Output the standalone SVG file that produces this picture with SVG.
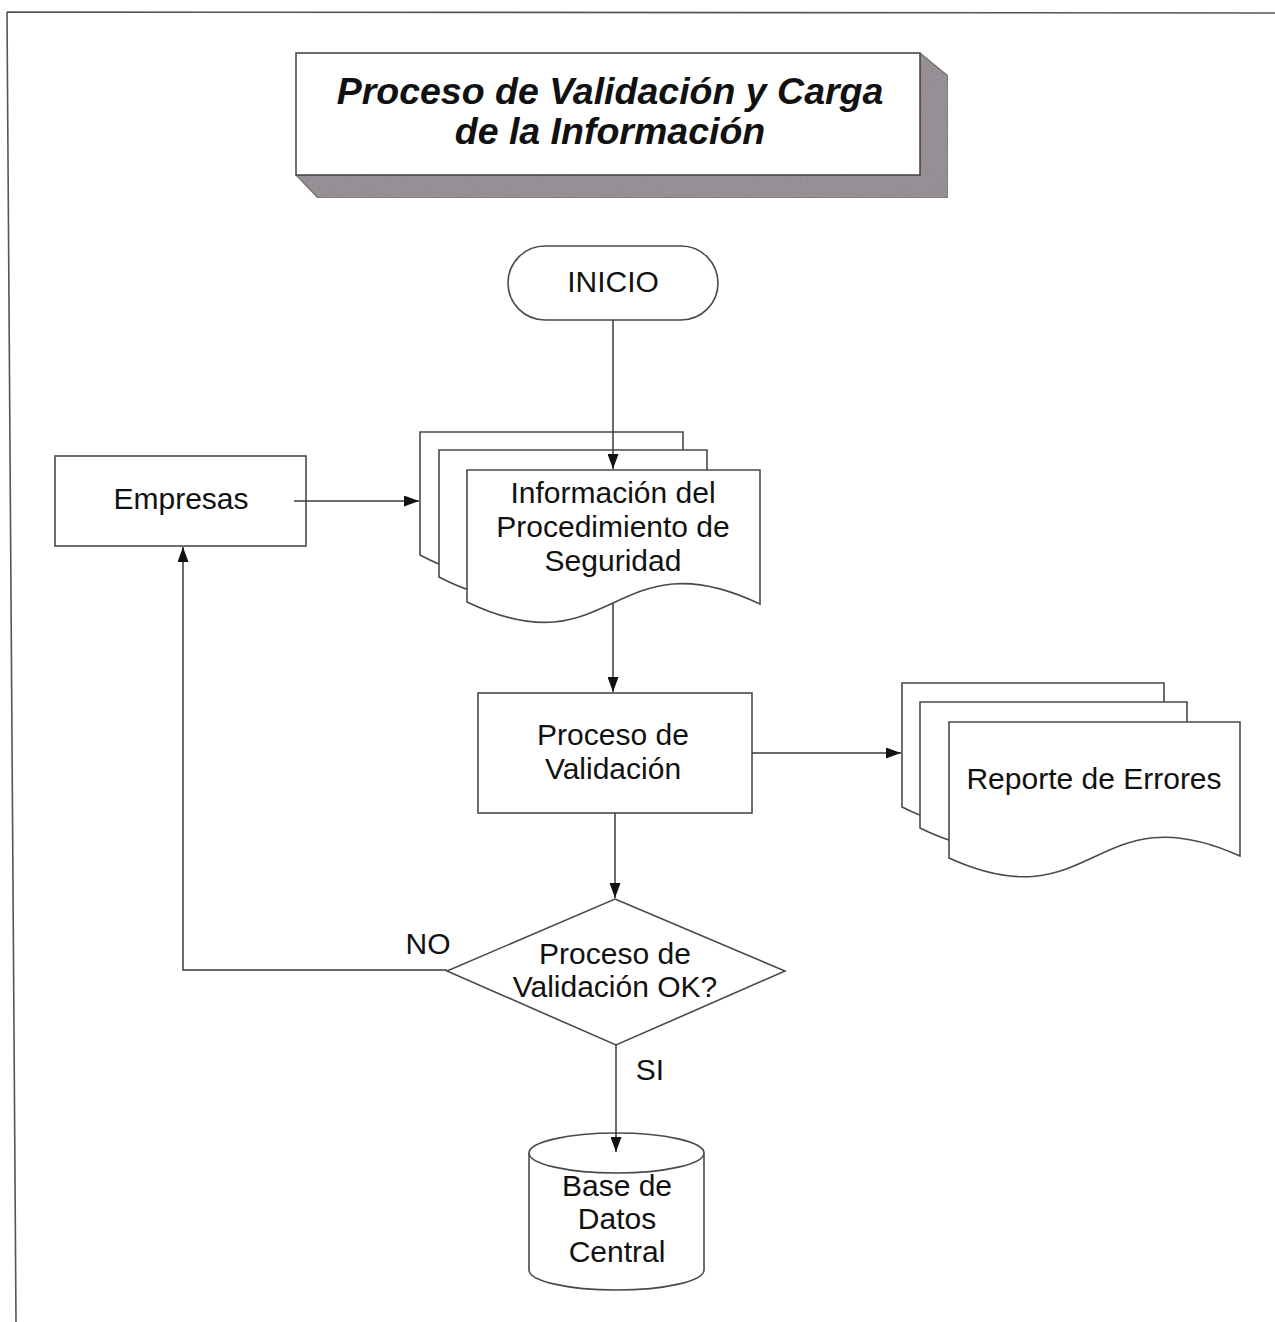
<svg xmlns="http://www.w3.org/2000/svg" width="1275" height="1322" viewBox="0 0 1275 1322">
  <style>
    .shape { fill: #ffffff; stroke: #4a4a4a; stroke-width: 1.6; }
    .edge { fill: none; stroke: #3a3a3a; stroke-width: 1.5; }
    .frame { fill: none; stroke: #555555; stroke-width: 1.6; }
    .lbl { font-family: "Liberation Sans", Arial, sans-serif; font-size: 30px; fill: #111111; text-anchor: middle; }
    .title { font-family: "Liberation Sans", Arial, sans-serif; font-size: 37.5px; font-weight: bold; font-style: italic; fill: #111111; text-anchor: middle; }
    .shade { fill: #8d858b; stroke: #555555; stroke-width: 1.2; }
  </style>
  <defs>
    <marker id="arrow" viewBox="0 0 15 11" refX="15" refY="5.5" markerWidth="15" markerHeight="11" markerUnits="userSpaceOnUse" orient="auto">
      <path d="M0,0 L15,5.5 L0,11 z" fill="#111111"/>
    </marker>
    <!-- speckled texture for the extruded title edge -->
    <filter id="grain" x="0" y="0" width="100%" height="100%">
      <feTurbulence type="fractalNoise" baseFrequency="0.9" numOctaves="2" seed="3" result="n"/>
      <feColorMatrix in="n" type="matrix" values="0 0 0 0 0.45  0 0 0 0 0.42  0 0 0 0 0.45  0 0 0 0.45 0" result="dots"/>
      <feComposite in="dots" in2="SourceGraphic" operator="in" result="clipped"/>
      <feMerge><feMergeNode in="SourceGraphic"/><feMergeNode in="clipped"/></feMerge>
    </filter>
  </defs>

  <rect width="1275" height="1322" fill="#ffffff"/>

  <!-- page frame -->
  <path class="frame" d="M7,12 L1275,13 M7,12 L16,1322"/>

  <!-- title block with extruded side -->
  <g id="title">
    <polygon class="shade" points="920,53 948,76 948,198 318,198 296,175 920,175" filter="url(#grain)"/>
    <rect class="shape" x="296" y="53" width="624" height="122"/>
    <text class="title" x="610" y="104">Proceso de Validación y Carga</text>
    <text class="title" x="610" y="144">de la Información</text>
  </g>

  <g id="inicio">
    <rect class="shape" x="508" y="246" width="210" height="74" rx="37" ry="37"/>
    <text class="lbl" x="613" y="292">INICIO</text>
  </g>

  <g id="empresas">
    <rect class="shape" x="55" y="456" width="251" height="90"/>
    <text class="lbl" x="181" y="509">Empresas</text>
  </g>

  <!-- stacked documents: security procedure information -->
  <g id="info-seguridad">
    <path class="shape" d="M420,432 H683 V557 C 551,487 551,625 420,555 Z"/>
    <path class="shape" d="M439,450 H707 V579 C 573,509 573,647 439,577 Z"/>
    <path class="shape" d="M467,470 H760 V604 C 613,534 613,672 467,602 Z"/>
    <text class="lbl" x="613" y="503">Información del</text>
    <text class="lbl" x="613" y="537">Procedimiento de</text>
    <text class="lbl" x="613" y="571">Seguridad</text>
  </g>

  <g id="proceso-validacion">
    <rect class="shape" x="478" y="693" width="274" height="120"/>
    <text class="lbl" x="613" y="745">Proceso de</text>
    <text class="lbl" x="613" y="779">Validación</text>
  </g>

  <!-- stacked documents: error report -->
  <g id="reporte-errores">
    <path class="shape" d="M902,683 H1164 V809 C 1033,743 1033,873 902,807 Z"/>
    <path class="shape" d="M920,702 H1187 V830 C 1053,764 1053,894 920,828 Z"/>
    <path class="shape" d="M949,722 H1240 V856 C 1094,790 1094,924 949,858 Z"/>
    <text class="lbl" x="1094" y="789">Reporte de Errores</text>
  </g>

  <g id="decision">
    <polygon class="shape" points="615,899 785,971 616,1045 447,971"/>
    <text class="lbl" x="615" y="964">Proceso de</text>
    <text class="lbl" x="615" y="997">Validación OK?</text>
  </g>

  <g id="base-datos">
    <path class="shape" d="M529,1153 V1270 A87.5,20 0 0 0 704,1270 V1153"/>
    <ellipse class="shape" cx="616.5" cy="1153" rx="87.5" ry="20"/>
    <text class="lbl" x="617" y="1196">Base de</text>
    <text class="lbl" x="617" y="1229">Datos</text>
    <text class="lbl" x="617" y="1262">Central</text>
  </g>

  <!-- connectors, drawn over the shapes -->
  <g id="connectors">
    <path class="edge" d="M613,320 V469" marker-end="url(#arrow)"/>
    <path class="edge" d="M294,501 H419" marker-end="url(#arrow)"/>
    <path class="edge" d="M613,603 V692" marker-end="url(#arrow)"/>
    <path class="edge" d="M752,753 H901" marker-end="url(#arrow)"/>
    <path class="edge" d="M615,813 V898" marker-end="url(#arrow)"/>
    <path class="edge" d="M447,970 H183 V547" marker-end="url(#arrow)"/>
    <path class="edge" d="M616,1045 V1152" marker-end="url(#arrow)"/>
  </g>

  <g id="edge-labels">
    <text class="lbl" x="428" y="954">NO</text>
    <text class="lbl" x="650" y="1080">SI</text>
  </g>
</svg>
